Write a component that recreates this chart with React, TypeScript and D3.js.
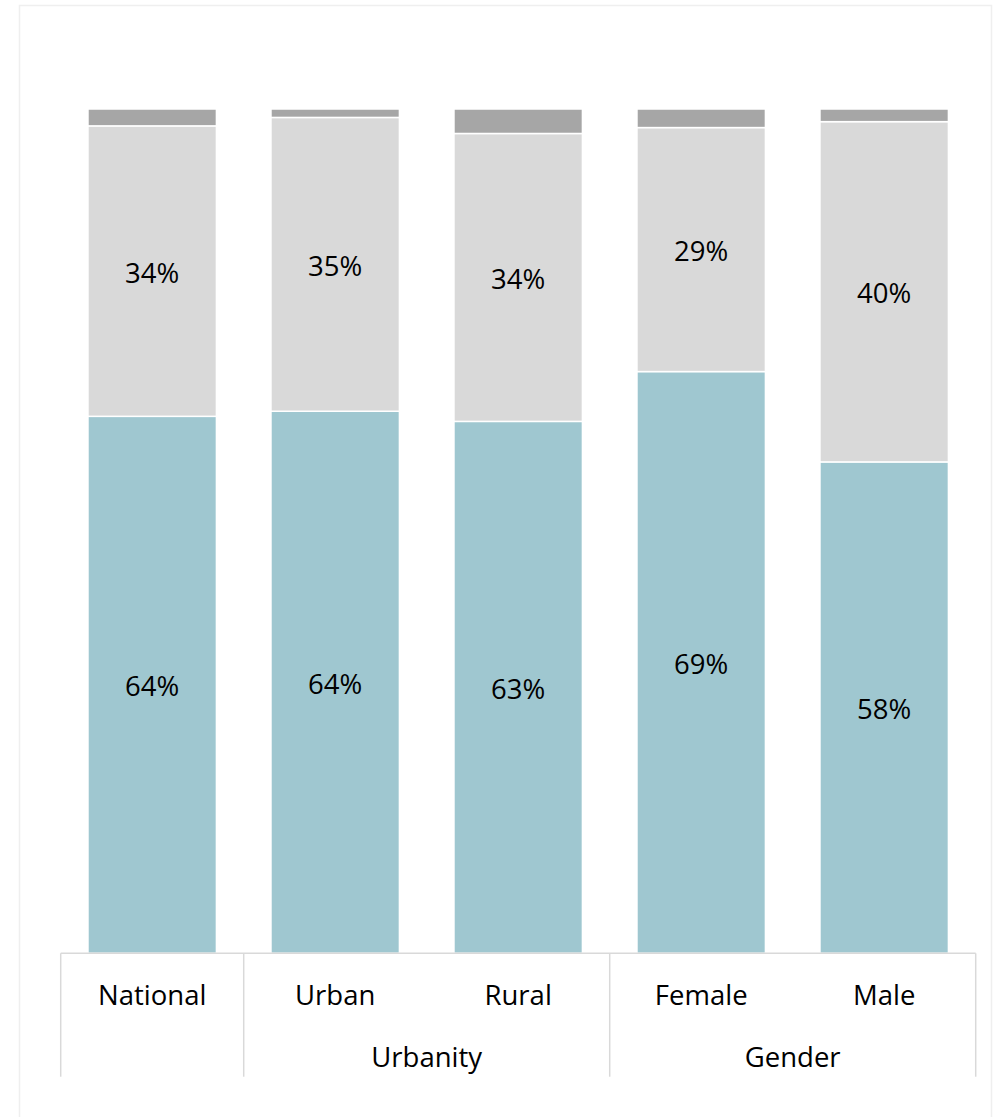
import React from "react";
import * as d3 from "d3";

const categories = ["National", "Urban", "Rural", "Female", "Male"];
const seriesKeys = ["main", "second", "rest"];
const mainValues = [63.6, 64.2, 63.0, 68.9, 58.2];
const secondValues = [34.4, 34.8, 34.1, 28.9, 40.3];
const restValues = [2.0, 1.0, 2.9, 2.2, 1.5];
const groupNames = ["", "Urbanity", "Gender"];
const groupFirst = ["National", "Urban", "Female"];
const groupLast = ["National", "Rural", "Male"];

const W = 999;
const H = 1117;
const colors: Record<string, string> = { main: "#9FC7D0", second: "#D9D9D9", rest: "#A6A6A6" };
const labelled: Record<string, boolean> = { main: true, second: true, rest: false };
const FONT = "'Open Sans', 'Liberation Sans', sans-serif";
const FS = 27.5;

export default function App() {
  const rows = categories.map((c, i) => ({
    cat: c,
    main: mainValues[i],
    second: secondValues[i],
    rest: restValues[i],
  }));
  const stack = d3.stack<any>().keys(seriesKeys);
  const layers = stack(rows);

  const left = 60.7;
  const right = 975.7;
  const x = d3.scaleBand<string>().domain(categories).range([left, right]).paddingInner(0.298).paddingOuter(0.149);
  const y = d3.scaleLinear().domain([0, 100]).range([953.3, 109]);
  const gapHalf = (x.step() - x.bandwidth()) / 2;
  const axisY = y(0);
  const axisBottom = 1076.7;

  const dividers: number[] = [];
  groupFirst.forEach((c) => dividers.push((x(c) as number) - gapHalf));
  dividers.push(right);

  return (
    <svg width={W} height={H} style={{ position: "absolute", left: 0, top: 0, background: "#fff" }}>
      <rect x={19.5} y={5.5} width={972} height={1130} fill="#fff" stroke="#EFEFEF" strokeWidth={1.5} />
      {layers.map((layer) => (
        <g key={layer.key}>
          {layer.map((d, i) => {
            const cx = x(categories[i]) as number;
            const y0 = y(d[1]);
            const y1 = y(d[0]);
            return (
              <rect
                key={i}
                x={cx}
                y={y0}
                width={x.bandwidth()}
                height={y1 - y0}
                fill={colors[layer.key]}
                stroke="#fff"
                strokeWidth={1.5}
              />
            );
          })}
          {labelled[layer.key] &&
            layer.map((d, i) => (
              <text
                key={"t" + i}
                x={(x(categories[i]) as number) + x.bandwidth() / 2}
                y={(y(d[0]) + y(d[1])) / 2 + 1}
                textAnchor="middle"
                dominantBaseline="central"
                fontFamily={FONT}
                fontSize={FS}
                fill="#000"
              >
                {d3.format(".0f")(d[1] - d[0]) + "%"}
              </text>
            ))}
        </g>
      ))}
      <line x1={left} x2={right} y1={axisY} y2={axisY} stroke="#D9D9D9" strokeWidth={1.5} />
      {dividers.map((dx, i) => (
        <line key={i} x1={dx} x2={dx} y1={axisY} y2={axisBottom} stroke="#D9D9D9" strokeWidth={1.5} />
      ))}
      {categories.map((c) => (
        <text
          key={c}
          x={(x(c) as number) + x.bandwidth() / 2}
          y={1005}
          textAnchor="middle"
          fontFamily={FONT}
          fontSize={FS}
          fill="#000"
        >
          {c}
        </text>
      ))}
      {groupNames.map((g, i) =>
        g ? (
          <text
            key={g}
            x={((x(groupFirst[i]) as number) - gapHalf + (x(groupLast[i]) as number) + x.bandwidth() + gapHalf) / 2}
            y={1066.5}
            textAnchor="middle"
            fontFamily={FONT}
            fontSize={FS}
            fill="#000"
          >
            {g}
          </text>
        ) : null
      )}
    </svg>
  );
}
